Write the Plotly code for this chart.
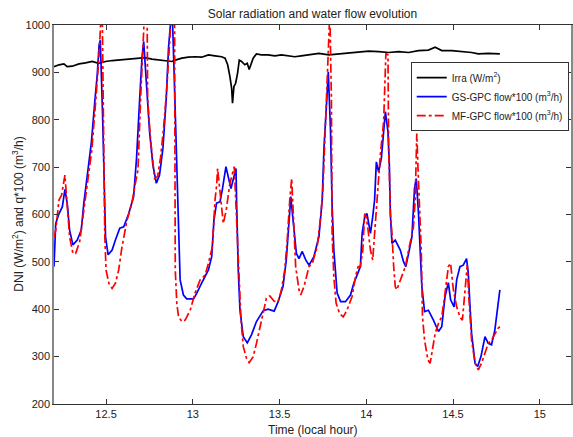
import plotly.graph_objects as go

# Solar irradiance (W/m2) versus local hour
irra_t = [12.200, 12.229, 12.257, 12.276, 12.305, 12.344, 12.382, 12.420, 12.458, 12.497,
          12.535, 12.573, 12.631, 12.688, 12.726, 12.764, 12.803, 12.841, 12.879, 12.899,
          12.937, 12.975, 13.013, 13.051, 13.090, 13.128, 13.166, 13.186, 13.201, 13.214,
          13.224, 13.229, 13.237, 13.247, 13.258, 13.268, 13.281, 13.300, 13.314, 13.325,
          13.335, 13.348, 13.367, 13.396, 13.434, 13.473, 13.511, 13.549, 13.588, 13.625,
          13.670, 13.727, 13.784, 13.842, 13.899, 13.957, 14.014, 14.071, 14.129, 14.186,
          14.244, 14.301, 14.358, 14.397, 14.435, 14.492, 14.549, 14.607, 14.646, 14.703,
          14.770]
irra_v = [912, 916, 918, 912, 913, 918, 920, 923, 919, 923,
          925, 926, 928, 930, 931, 928, 926, 925, 923, 926,
          930, 932, 933, 932, 937, 935, 933, 930, 916, 891,
          866, 835, 870, 877, 898, 926, 923, 916, 919, 906,
          916, 930, 939, 937, 937, 935, 937, 935, 933, 935,
          937, 940, 937, 939, 940, 942, 945, 944, 942, 944,
          942, 946, 947, 953, 946, 946, 944, 942, 939, 940,
          939]

# GS-GPC flow x100 (m3/h)
gs_t = [12.200, 12.210, 12.229, 12.248, 12.263, 12.276, 12.290, 12.309, 12.334, 12.357,
        12.372, 12.397, 12.416, 12.435, 12.449, 12.460, 12.467, 12.480, 12.487, 12.497,
        12.512, 12.535, 12.554, 12.579, 12.602, 12.631, 12.659, 12.676, 12.694, 12.707,
        12.717, 12.726, 12.751, 12.770, 12.790, 12.808, 12.828, 12.847, 12.860, 12.872,
        12.883, 12.891, 12.904, 12.914, 12.921, 12.927, 12.946, 12.965, 13.004, 13.023,
        13.051, 13.090, 13.109, 13.122, 13.137, 13.157, 13.170, 13.191, 13.220, 13.239,
        13.249, 13.253, 13.262, 13.272, 13.291, 13.314, 13.338, 13.367, 13.406, 13.434,
        13.469, 13.492, 13.520, 13.539, 13.553, 13.565, 13.578, 13.597, 13.612, 13.631,
        13.651, 13.670, 13.698, 13.727, 13.746, 13.756, 13.775, 13.781, 13.794, 13.803,
        13.813, 13.823, 13.832, 13.852, 13.880, 13.909, 13.928, 13.947, 13.966, 13.976,
        13.991, 14.004, 14.014, 14.024, 14.037, 14.048, 14.058, 14.071, 14.087, 14.100,
        14.110, 14.125, 14.133, 14.139, 14.148, 14.167, 14.196, 14.215, 14.228, 14.244,
        14.263, 14.278, 14.288, 14.301, 14.320, 14.336, 14.358, 14.387, 14.416, 14.435,
        14.454, 14.473, 14.486, 14.506, 14.521, 14.540, 14.559, 14.578, 14.588, 14.598,
        14.607, 14.627, 14.642, 14.661, 14.684, 14.703, 14.722, 14.741, 14.760, 14.770]
gs_v = [490, 581, 602, 616, 653, 624, 567, 536, 546, 567,
        624, 694, 754, 838, 894, 958, 968, 810, 669, 553,
        515, 525, 546, 571, 574, 602, 638, 720, 845, 930,
        965, 916, 775, 704, 666, 683, 740, 845, 951, 1005,
        1010, 916, 740, 599, 518, 462, 430, 422, 422, 434,
        455, 483, 511, 588, 624, 627, 652, 701, 655, 683,
        697, 620, 483, 398, 342, 329, 346, 374, 397, 400,
        396, 416, 448, 504, 588, 638, 588, 518, 507, 522,
        504, 493, 511, 553, 631, 740, 859, 901, 775, 620,
        525, 469, 434, 416, 416, 430, 455, 472, 490, 560,
        595, 602, 581, 560, 595, 631, 711, 690, 719, 775,
        817, 775, 704, 600, 539, 546, 525, 500, 490, 518,
        553, 655, 676, 602, 450, 395, 398, 377, 353, 363,
        427, 456, 420, 405, 462, 490, 493, 507, 476, 405,
        349, 286, 279, 300, 342, 328, 325, 356, 420, 441]

# MF-GPC flow x100 (m3/h)
mf_t = [12.200, 12.210, 12.229, 12.244, 12.263, 12.276, 12.290, 12.309, 12.325, 12.348,
        12.362, 12.382, 12.401, 12.418, 12.441, 12.458, 12.470, 12.478, 12.489, 12.493,
        12.500, 12.516, 12.535, 12.554, 12.573, 12.592, 12.621, 12.649, 12.669, 12.684,
        12.699, 12.711, 12.722, 12.737, 12.740, 12.757, 12.780, 12.797, 12.814, 12.831,
        12.849, 12.866, 12.877, 12.895, 12.899, 12.908, 12.918, 12.937, 12.956, 12.985,
        13.013, 13.042, 13.071, 13.090, 13.113, 13.128, 13.137, 13.143, 13.159, 13.176,
        13.193, 13.205, 13.214, 13.239, 13.252, 13.262, 13.278, 13.291, 13.310, 13.325,
        13.348, 13.367, 13.387, 13.406, 13.424, 13.444, 13.469, 13.492, 13.511, 13.530,
        13.543, 13.559, 13.570, 13.593, 13.612, 13.622, 13.641, 13.670, 13.689, 13.717,
        13.737, 13.750, 13.767, 13.782, 13.790, 13.799, 13.803, 13.813, 13.826, 13.846,
        13.867, 13.889, 13.918, 13.938, 13.953, 13.966, 13.980, 13.991, 13.999, 14.008,
        14.024, 14.037, 14.048, 14.058, 14.081, 14.100, 14.113, 14.125, 14.129, 14.139,
        14.148, 14.158, 14.167, 14.176, 14.196, 14.225, 14.244, 14.272, 14.282, 14.291,
        14.301, 14.317, 14.324, 14.336, 14.355, 14.368, 14.381, 14.397, 14.416, 14.435,
        14.454, 14.473, 14.486, 14.502, 14.521, 14.540, 14.554, 14.569, 14.582, 14.592,
        14.607, 14.627, 14.646, 14.664, 14.684, 14.703, 14.722, 14.741, 14.760, 14.770]
mf_v = [553, 567, 631, 641, 683, 624, 553, 518, 518, 543,
        581, 638, 694, 736, 842, 926, 1010, 1030, 669, 553,
        483, 455, 444, 455, 483, 532, 588, 624, 666, 694,
        842, 947, 1030, 1010, 842, 757, 676, 680, 720, 780,
        860, 960, 1030, 1010, 483, 412, 384, 374, 377, 398,
        434, 462, 472, 497, 532, 631, 660, 697, 640, 581,
        610, 645, 666, 701, 588, 483, 377, 321, 296, 287,
        300, 328, 363, 398, 423, 428, 417, 416, 441, 483,
        539, 631, 676, 490, 441, 430, 448, 490, 497, 532,
        595, 652, 800, 968, 1030, 842, 560, 469, 413, 391,
        384, 398, 427, 469, 490, 490, 525, 602, 595, 574,
        525, 504, 560, 631, 726, 796, 940, 937, 740, 602,
        560, 490, 448, 441, 462, 490, 525, 574, 631, 771,
        669, 525, 384, 335, 293, 286, 314, 349, 370, 384,
        434, 490, 497, 441, 405, 384, 377, 434, 493, 420,
        335, 286, 272, 286, 307, 328, 335, 349, 360, 363]

x_ticks = [12.5, 13, 13.5, 14, 14.5, 15]
x_tick_labels = ["12.5", "13", "13.5", "14", "14.5", "15"]
y_ticks = [200, 300, 400, 500, 600, 700, 800, 900, 1000]

FONT = "Liberation Sans, Arial, sans-serif"

fig = go.Figure()
fig.add_trace(go.Scatter(x=irra_t, y=irra_v, mode="lines",
                         name="Irra (W/m<sup>2</sup>)",
                         line=dict(color="black", width=1.7)))
fig.add_trace(go.Scatter(x=gs_t, y=gs_v, mode="lines",
                         name="GS-GPC flow*100 (m<sup>3</sup>/h)",
                         line=dict(color="#0000ff", width=1.7)))
fig.add_trace(go.Scatter(x=mf_t, y=mf_v, mode="lines",
                         name="MF-GPC flow*100 (m<sup>3</sup>/h)",
                         line=dict(color="#ff0000", width=1.7, dash="dashdot")))

fig.update_layout(
    width=573, height=437,
    margin=dict(l=54, r=0, t=25, b=33),
    paper_bgcolor="white", plot_bgcolor="white",
    font=dict(family=FONT, size=11, color="#222"),
    title=dict(text="Solar radiation and water flow evolution",
               x=0.5, xref="paper", xanchor="center",
               y=1 - 14 / 437, yref="container", yanchor="middle",
               font=dict(family=FONT, size=12, color="#222")),
    showlegend=True,
    legend=dict(x=0.69, y=0.902, xanchor="left", yanchor="top",
                bgcolor="white", bordercolor="#333", borderwidth=1,
                font=dict(family=FONT, size=10, color="#222"),
                tracegroupgap=0),
    xaxis=dict(range=[12.2, 15.18], showgrid=False, zeroline=False,
               showline=True, linecolor="#333", linewidth=1, mirror="ticks",
               ticks="inside", ticklen=5, tickcolor="#333",
               tickvals=x_ticks, ticktext=x_tick_labels,
               tickfont=dict(family=FONT, size=11, color="#222")),
    yaxis=dict(range=[200, 1000], showgrid=False, zeroline=False,
               showline=True, linecolor="#888", linewidth=1.5, mirror="ticks",
               ticks="inside", ticklen=5, tickcolor="#333",
               tickvals=y_ticks,
               tickfont=dict(family=FONT, size=11, color="#222")),
    annotations=[
        dict(text="Time (local hour)", xref="paper", yref="paper",
             x=0.5, y=-0.068, xanchor="center", yanchor="middle",
             showarrow=False, font=dict(family=FONT, size=12, color="#222")),
        dict(text="DNI (W/m<sup>2</sup>) and q*100 (m<sup>3</sup>/h)",
             xref="paper", yref="paper", x=-0.0713, y=0.5,
             xanchor="center", yanchor="middle", textangle=-90,
             showarrow=False, font=dict(family=FONT, size=12, color="#222")),
    ],
)

fig.write_html("out.html")
